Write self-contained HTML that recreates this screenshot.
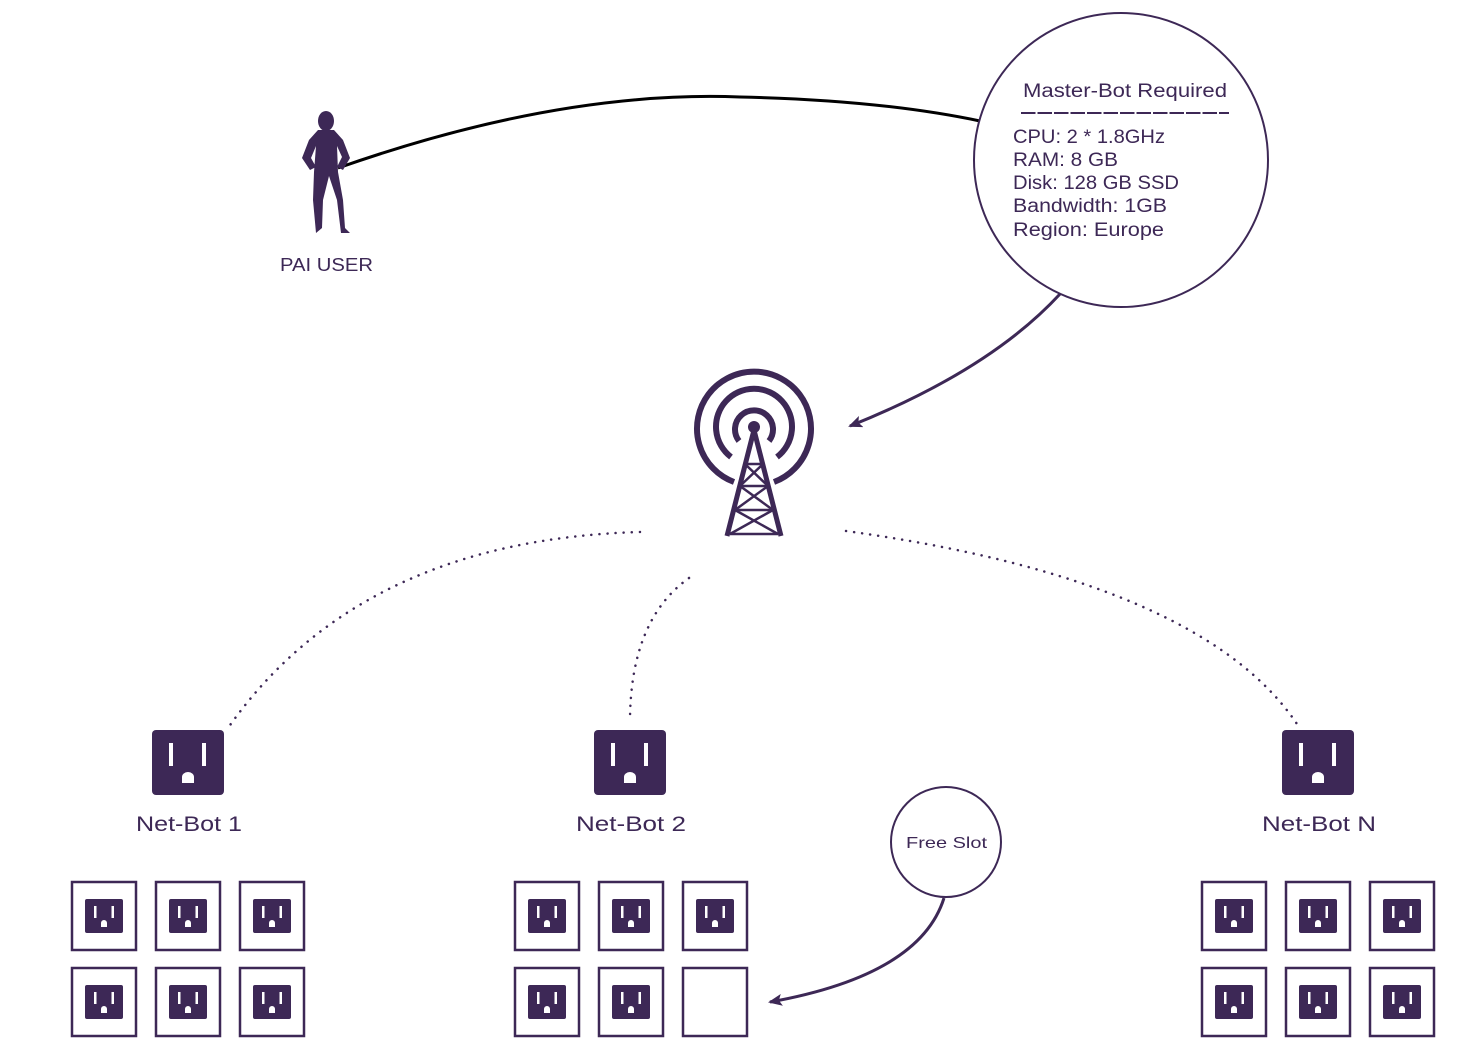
<!DOCTYPE html>
<html><head><meta charset="utf-8"><style>
html,body{margin:0;padding:0;background:#fff;width:1464px;height:1060px;overflow:hidden}
svg{display:block}
text{font-family:"Liberation Sans",sans-serif;fill:#3d2856}
</style></head><body>
<svg width="1464" height="1060" viewBox="0 0 1464 1060" xmlns="http://www.w3.org/2000/svg">
<defs>
<g id="big">
  <rect x="0" y="0" width="72" height="65" rx="4" fill="#3d2856"/>
  <rect x="17" y="13" width="4" height="23" fill="#fff"/>
  <rect x="50" y="13" width="4" height="23" fill="#fff"/>
  <path d="M30 53 V47 a6 5 0 0 1 12 0 V53 Z" fill="#fff"/>
</g>
<g id="small">
  <rect x="0" y="0" width="38" height="34" rx="2" fill="#3d2856"/>
  <rect x="9" y="7" width="2.5" height="12" fill="#fff"/>
  <rect x="26.5" y="7" width="2.5" height="12" fill="#fff"/>
  <path d="M16 28 V24 a3 3 0 0 1 6 0 V28 Z" fill="#fff"/>
</g>
<g id="cell">
  <rect x="1" y="1" width="64" height="68" fill="none" stroke="#3d2856" stroke-width="2.5"/>
  <use href="#small" x="14" y="18"/>
</g>
<marker id="ah" markerWidth="14" markerHeight="12" refX="12" refY="6" orient="auto" markerUnits="userSpaceOnUse">
  <path d="M0 0 L14 6 L0 12 L3 6 Z" fill="#3d2856"/>
</marker>
</defs>

<path d="M338 168 Q560 90 740 97 Q880 100 980 121" fill="none" stroke="#000" stroke-width="3"/>

<g fill="#3d2856">
  <ellipse cx="326" cy="121" rx="8" ry="10"/>
  <path d="M318 130 L334 130 L343 140 L350 158 L343 170 L337 167 L342 157 L337 146 L338 172 L343 200 L345 228 L350 233 L341 233 L337 200 L329 176 L323 200 L322 228 L316 233 L313 200 L314 172 L316 146 L311 158 L316 167 L310 170 L302 158 L309 140 Z"/>
</g>
<text x="280" y="271" font-size="18" textLength="93" lengthAdjust="spacingAndGlyphs">PAI USER</text>

<circle cx="1121" cy="160" r="147" fill="#fff" stroke="#3d2856" stroke-width="2"/>
<g font-size="19">
<text x="1023" y="97" textLength="204" lengthAdjust="spacingAndGlyphs">Master-Bot Required</text>
<text x="1013" y="143" textLength="152" lengthAdjust="spacingAndGlyphs">CPU: 2 * 1.8GHz</text>
<text x="1013" y="166" textLength="105" lengthAdjust="spacingAndGlyphs">RAM: 8 GB</text>
<text x="1013" y="189" textLength="166" lengthAdjust="spacingAndGlyphs">Disk: 128 GB SSD</text>
<text x="1013" y="212" textLength="154" lengthAdjust="spacingAndGlyphs">Bandwidth: 1GB</text>
<text x="1013" y="236" textLength="151" lengthAdjust="spacingAndGlyphs">Region: Europe</text>
</g>
<line x1="1021" y1="113" x2="1229" y2="113" stroke="#3d2856" stroke-width="2" stroke-dasharray="14.5 2"/>

<path d="M1060 294 Q990 370 850 426" fill="none" stroke="#3d2856" stroke-width="3" marker-end="url(#ah)"/>

<g fill="none" stroke="#3d2856" stroke-width="6">
  <path d="M734 482 A57 57 0 1 1 774 482"/>
  <path d="M731 457 A38 38 0 1 1 777 457"/>
  <path d="M739 441 A19 19 0 1 1 769 441"/>
</g>
<circle cx="754" cy="427" r="6" fill="#3d2856"/>
<g stroke="#3d2856" stroke-width="5" fill="none">
  <path d="M754 430 L727 536 M754 430 L781 536"/>
</g>
<g stroke="#3d2856" stroke-width="2.5" fill="none">
  <path d="M745 464 H763 M740 486 H768 M735 510 H773 M730 534 H778"/>
  <path d="M745 464 L768 486 M763 464 L740 486 M740 486 L773 510 M768 486 L735 510 M735 510 L778 534 M773 510 L730 534"/>
</g>

<g fill="none" stroke="#3d2856" stroke-width="2.5" stroke-dasharray="0.1 8" stroke-linecap="round">
  <path d="M640 532 Q360 540 228 728"/>
  <path d="M689 578 Q630 620 630 722"/>
  <path d="M846 531 Q1200 580 1297 724"/>
</g>

<use href="#big" x="152" y="730"/>
<use href="#big" x="594" y="730"/>
<use href="#big" x="1282" y="730"/>
<g font-size="21">
<text x="136" y="831" textLength="106" lengthAdjust="spacingAndGlyphs">Net-Bot 1</text>
<text x="576" y="831" textLength="110" lengthAdjust="spacingAndGlyphs">Net-Bot 2</text>
<text x="1262" y="831" textLength="114" lengthAdjust="spacingAndGlyphs">Net-Bot N</text>
</g>

<use href="#cell" x="71" y="881"/><use href="#cell" x="155" y="881"/><use href="#cell" x="239" y="881"/>
<use href="#cell" x="71" y="967"/><use href="#cell" x="155" y="967"/><use href="#cell" x="239" y="967"/>
<use href="#cell" x="514" y="881"/><use href="#cell" x="598" y="881"/><use href="#cell" x="682" y="881"/>
<use href="#cell" x="514" y="967"/><use href="#cell" x="598" y="967"/>
<rect x="683" y="968" width="64" height="68" fill="none" stroke="#3d2856" stroke-width="2.5"/>
<use href="#cell" x="1201" y="881"/><use href="#cell" x="1285" y="881"/><use href="#cell" x="1369" y="881"/>
<use href="#cell" x="1201" y="967"/><use href="#cell" x="1285" y="967"/><use href="#cell" x="1369" y="967"/>

<circle cx="946" cy="842" r="55" fill="#fff" stroke="#3d2856" stroke-width="2"/>
<text x="906" y="848" font-size="16" textLength="81" lengthAdjust="spacingAndGlyphs">Free Slot</text>
<path d="M944 898 Q920 975 770 1002" fill="none" stroke="#3d2856" stroke-width="3" marker-end="url(#ah)"/>
</svg>
</body></html>
